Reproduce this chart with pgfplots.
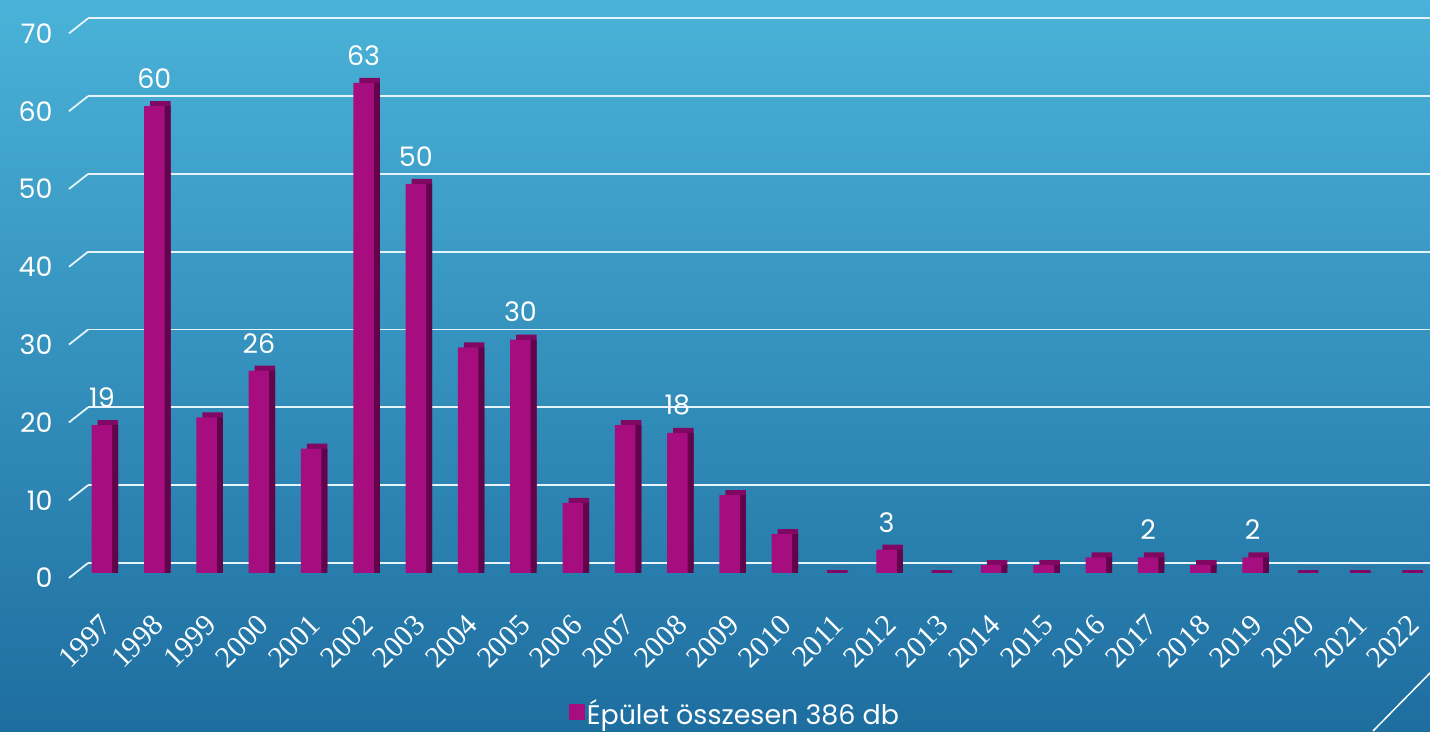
\documentclass[border=0pt]{standalone}
\usepackage{pgfplots}
\pgfplotsset{compat=1.18}
\usepackage{fontspec}
\setmainfont{Poppins}
\newfontfamily\yearfont{Liberation Serif}
\newcommand\yr[1]{\mbox{\yearfont\fontsize{30}{30}\selectfont #1}}

\definecolor{barfront}{RGB}{166,14,128}
\definecolor{bartop}{RGB}{128,8,98}
\definecolor{barside}{RGB}{98,4,76}
\definecolor{bgtop}{RGB}{74,178,216}
\definecolor{bgbot}{RGB}{30,110,160}
\definecolor{gridc}{RGB}{228,244,250}

\pgfplotstableread{
idx year n
0 1997 19
1 1998 60
2 1999 20
3 2000 26
4 2001 16
5 2002 63
6 2003 50
7 2004 29
8 2005 30
9 2006 9
10 2007 19
11 2008 18
12 2009 10
13 2010 5
14 2011 0
15 2012 3
16 2013 0
17 2014 1
18 2015 1
19 2016 2
20 2017 2
21 2018 1
22 2019 2
23 2020 0
24 2021 0
25 2022 0
}\buildings

\begin{document}
\begin{tikzpicture}[x=1bp,y=1bp]
\shade[top color=bgtop, bottom color=bgbot] (0,0) rectangle (1430,731);
\path[use as bounding box] (0,0) rectangle (1430,731);
\draw[white, line width=1.5bp] (1373,0) -- (1430,58);
\begin{axis}[
    at={(76bp,158bp)}, anchor=south west,
    scale only axis, width=1342bp, height=544.6bp,
    xmin=-0.497, xmax=25.16, ymin=0, ymax=70,
    clip=false,
    ybar, bar width=20.5bp,
    axis line style={draw=none},
    tick style={draw=none},
    ytick={0,10,...,70},
    xtick={0,1,...,25},
    xticklabels={\yr{1997},\yr{1998},\yr{1999},\yr{2000},\yr{2001},\yr{2002},\yr{2003},
        \yr{2004},\yr{2005},\yr{2006},\yr{2007},\yr{2008},\yr{2009},\yr{2010},\yr{2011},
        \yr{2012},\yr{2013},\yr{2014},\yr{2015},\yr{2016},\yr{2017},\yr{2018},\yr{2019},
        \yr{2020},\yr{2021},\yr{2022}},
    /pgf/number format/assume math mode=true,
    yticklabel style={font=\fontsize{27}{27}\selectfont, text=white, xshift=-20bp, yshift=-5bp},
    xticklabel style={text=white, rotate=45, anchor=north east, xshift=-24bp, yshift=-20bp},
    ymajorgrids,
    major grid style={gridc, line width=1.8bp, xshift=12bp, yshift=10bp},
    legend style={at={(0.491,-0.256)}, anchor=center, draw=none, fill=none,
        text=white, font=\fontsize{27}{27}\selectfont},
]
\pgfplotsinvokeforeach{0,10,...,70}{
  \draw[gridc, line width=1.8bp] ([xshift=-7bp, yshift=-5bp]axis cs:-0.497,#1) -- ([xshift=12bp, yshift=10bp]axis cs:-0.497,#1);
}
% depth of the bars
\addplot[fill=bartop, draw=none, bar shift=0pt, xshift=6bp, yshift=5bp, forget plot]
    table[x=idx, y=n] {\buildings};
\addplot[fill=barside, draw=none, bar shift=0pt, xshift=6bp, forget plot]
    table[x=idx, y=n] {\buildings};
% years with no building: flat slabs
\addplot[draw=bartop, line width=3bp, fill=none, bar shift=0pt, xshift=3bp, yshift=1bp, forget plot]
    coordinates {(14,0) (16,0) (23,0) (24,0) (25,0)};
% front faces
\addplot[fill=barfront, draw=none, bar shift=0pt,
    legend image code/.code={\fill[barfront] (0bp,-8bp) rectangle (16bp,8bp);}]
    table[x=idx, y=n] {\buildings};
\addlegendentry{Épület összesen 386 db}
% value labels shown on the chart
\addplot[draw=none, fill=none, bar shift=0pt, forget plot,
    nodes near coords,
    every node near coord/.append style={text=white, font=\fontsize{27}{27}\selectfont, yshift=14bp}]
    coordinates {(0,19) (1,60) (3,26) (5,63) (6,50) (8,30) (11,18) (15,3) (20,2) (22,2)};
\end{axis}
\end{tikzpicture}
\end{document}
